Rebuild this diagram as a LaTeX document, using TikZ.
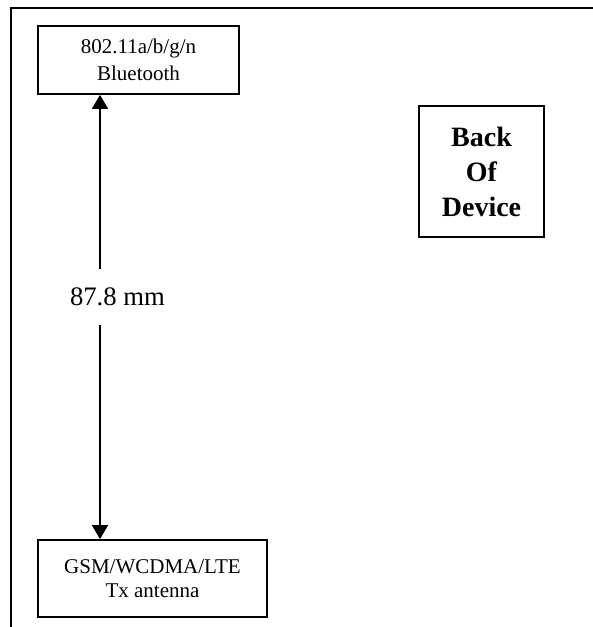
\documentclass[tikz,border=0pt]{standalone}
\usepackage{fontspec}
\setmainfont{Liberation Serif}
\usetikzlibrary{arrows.meta}
\begin{document}
\begin{tikzpicture}[x=1pt,y=-1pt,
  box/.style={draw,line width=1.8pt,inner sep=0pt,align=center},
  dim/.style={line width=1.8pt,-{Triangle[length=14pt,width=16pt]}}]
\useasboundingbox (0,0) rectangle (593,627);
% frame (top and left)
\draw[line width=1.8pt] (593,8) -- (11,8) -- (11,628);
\node[box,minimum width=201pt,minimum height=68pt,font=\fontsize{21}{27}\selectfont] (t) at (138.5,60) {802.11a/b/g/n\\Bluetooth};
\node[box,minimum width=229pt,minimum height=77pt,font=\fontsize{21}{24}\selectfont] (b) at (152.5,578.5) {GSM/WCDMA/LTE\\Tx antenna};
\node[box,line width=2.6pt,minimum width=125pt,minimum height=131pt,font=\fontsize{28}{35}\selectfont\bfseries] (d) at (481.5,171.5) {Back\\Of\\Device};
\node[font=\fontsize{26.7}{30}\selectfont,inner sep=0pt] (m) at (117.5,297) {87.8 mm};
\coordinate (a1) at (100,269);
\coordinate (a2) at (100,325);
\draw[dim] (a1) -- (a1 |- t.south);
\draw[dim] (a2) -- (a2 |- b.north);
\end{tikzpicture}
\end{document}
